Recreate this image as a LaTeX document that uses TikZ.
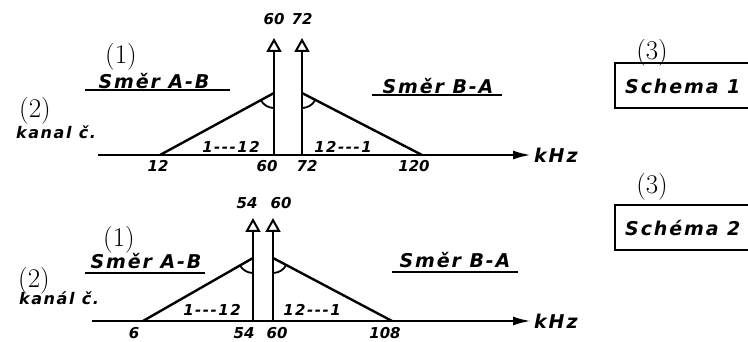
\documentclass[tikz,border=0pt]{standalone}
\usepackage{fontspec}
\usepackage{tikz}
\usetikzlibrary{arrows.meta, positioning, calc}
\newfontfamily\hand[LetterSpace=10]{DejaVu Sans}
\newfontfamily\handnum{DejaVu Sans}

\tikzset{
  lbl/.style={font=\hand\bfseries\itshape\fontsize{19}{19}\selectfont, inner sep=0pt},
  chan/.style={font=\hand\bfseries\itshape\fontsize{15}{15}\selectfont, inner sep=0pt},
  num/.style={font=\handnum\bfseries\itshape\fontsize{15}{15}\selectfont, inner sep=0pt},
  refno/.style={font=\rmfamily\fontsize{27}{27}\selectfont, inner sep=0pt},
  axisline/.style={line width=2.4pt, -{Latex[length=18pt,width=9pt]}},
  carrier/.style={line width=2.4pt, -{Triangle[open,length=14pt,width=15pt,line width=2pt]}},
  band/.style={line width=2.4pt},
  uline/.style={line width=2.2pt}
}

\begin{document}
\begin{tikzpicture}[x=1pt, y=1pt]
		\useasboundingbox (0,0) rectangle (748,342);
		% Schema 1
		\coordinate (ax1s) at (98,187);
		\coordinate (ax1e) at (531,187);
		\coordinate (c60b) at (274,187);
		\coordinate (c60t) at (274,304);
		\coordinate (c72b) at (302,187);
		\coordinate (c72t) at (302,304);
		\coordinate (ap1l) at (274,249);
		\coordinate (ap1r) at (302,249);
		\coordinate (ft1l) at (160,187);
		\coordinate (ft1r) at (422,187);
		\draw[axisline] (ax1s) -- (ax1e);
		\draw[carrier] (c60b) -- (c60t);
		\draw[carrier] (c72b) -- (c72t);
		\draw[band] (ft1l) -- (ap1l);
		\draw[band] (ft1r) -- (ap1r);
		\draw[line width=1.8pt] ([shift={(208.5:15pt)}]ap1l) arc[start angle=208.5, end angle=270, radius=15pt];
		\draw[line width=1.8pt] ([shift={(270:15pt)}]ap1r) arc[start angle=270, end angle=332.7, radius=15pt];
		\node[lbl, right=3pt of ax1e] (khz1) {kHz};
		\node[num] (t60) at (274,323) {60};
		\node[num] (t72) at (302,323) {72};
		\node[num] (b12) at (158,176) {12};
		\node[num] (b60) at (267,176) {60};
		\node[num] (b72) at (307,176) {72};
		\node[num] (b120) at (414,176) {120};
		\node[chan] (ch1l) at (231,195) {1{-}{-}{-}12};
		\node[chan] (ch1r) at (343,195) {12{-}{-}{-}1};
		\node[refno] (r1a) at (121,285) {(1)};
		\node[lbl] (dir1a) at (154,261) {Směr A-B};
		\draw[uline] (85,252) -- (230,252);
		\node[refno] (r2a) at (35,231) {(2)};
		\node[chan, font=\hand\bfseries\itshape\fontsize{16}{16}\selectfont] (kan1) at (56,210) {kanal č.};
		\node[lbl] (dir1b) at (438,256) {Směr B-A};
		\draw[uline] (372,247) -- (502,247);
		\node[refno] (r3a) at (652,289) {(3)};
		\node[lbl, anchor=west] (sch1) at (625,256) {Schema 1};
		\draw[line width=2pt] (748,279) -| (615,234) -- (748,234);
		% Schema 2
		\coordinate (ax2s) at (92,21);
		\coordinate (ax2e) at (531,21);
		\coordinate (c54b) at (253,21);
		\coordinate (c54t) at (253,124);
		\coordinate (c60c) at (273,21);
		\coordinate (c60d) at (273,124);
		\coordinate (ap2l) at (253,84);
		\coordinate (ap2r) at (273,84);
		\coordinate (ft2l) at (143,21);
		\coordinate (ft2r) at (392,21);
		\draw[axisline] (ax2s) -- (ax2e);
		\draw[carrier] (c54b) -- (c54t);
		\draw[carrier] (c60c) -- (c60d);
		\draw[band] (ft2l) -- (ap2l);
		\draw[band] (ft2r) -- (ap2r);
		\draw[line width=1.8pt] ([shift={(209.8:15pt)}]ap2l) arc[start angle=209.8, end angle=270, radius=15pt];
		\draw[line width=1.8pt] ([shift={(270:15pt)}]ap2r) arc[start angle=270, end angle=332.1, radius=15pt];
		\node[lbl, right=3pt of ax2e] (khz2) {kHz};
		\node[num] (t54) at (247,139) {54};
		\node[num] (t60b) at (281,139) {60};
		\node[num] (b6) at (134,9) {6};
		\node[num] (b54) at (244,9) {54};
		\node[num] (b60b) at (277,9) {60};
		\node[num] (b108) at (385,9) {108};
		\node[chan] (ch2l) at (212,32) {1{-}{-}{-}12};
		\node[chan] (ch2r) at (312,32) {12{-}{-}{-}1};
		\node[refno] (r1b) at (119,102) {(1)};
		\node[lbl] (dir2a) at (146,81) {Směr A-B};
		\draw[uline] (85,69) -- (205,69);
		\node[refno] (r2b) at (34,61) {(2)};
		\node[chan, font=\hand\bfseries\itshape\fontsize{16}{16}\selectfont] (kan2) at (59,44) {kanál č.};
		\node[lbl] (dir2b) at (455,82) {Směr B-A};
		\draw[uline] (392,70) -- (518,70);
		\node[refno] (r3b) at (652,155) {(3)};
		\node[lbl, anchor=west] (sch2) at (625,114) {Schéma 2};
		\draw[line width=2pt] (748,137) -| (615,92) -- (748,92);
	\end{tikzpicture}
\end{document}
